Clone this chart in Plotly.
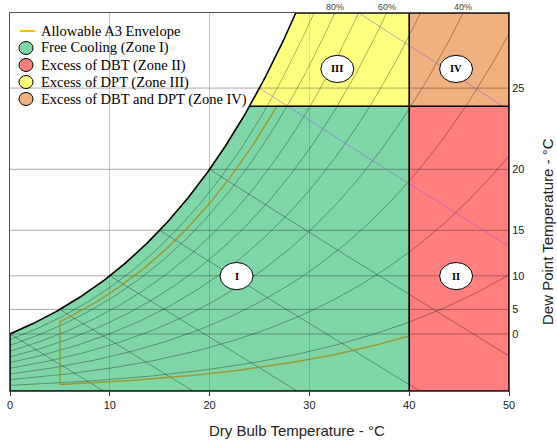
import numpy as np
import plotly.graph_objects as go

# ---------------- chart parameters ----------------
DBT_TICKS = [0, 10, 20, 30, 40, 50]          # dry bulb, deg C
DP_TICKS = [0, 5, 10, 15, 20, 25]            # dew point, deg C (right axis)
RH_LEVELS = [10, 20, 30, 40, 50, 60, 70, 80, 90]   # % relative humidity curves
RH_LABELS = [80, 60, 40]                     # labelled on top edge
WB_LINES = [0, 5, 10, 15, 20]                # wet bulb lines (dark)
WB_COLORED = [25, 30]                        # wet bulb lines (violet)
W_MAX = 0.025                                # humidity ratio at top of chart
T_MIN, T_MAX = 0, 50
ZONE_DBT = 40                                # zone boundary, dry bulb
ZONE_DP = 24                                 # zone boundary, dew point
A3_DBT = [5, 40]                             # allowable A3 envelope
A3_RH = [8, 85]
A3_DP = 24
ZONE_NAMES = ["I", "II", "III", "IV"]
ZONE_T = [22.7, 44.7, 32.8, 44.7]
ZONE_W = [0.00760, 0.00760, 0.0213, 0.0213]
LEGEND_NAMES = ["Allowable A3 Envelope", "Free Cooling (Zone I)", "Excess of DBT (Zone II)",
                "Excess of DPT (Zone III)", "Excess of DBT and DPT (Zone IV)"]
ZONE_FILL = ["rgba(0,176,80,0.5)", "rgba(255,0,0,0.5)", "rgba(255,255,0,0.5)", "rgba(222,100,0,0.5)"]
ZONE_SOLID = ["#7FD7A7", "#FF7F7F", "#FFFF7F", "#EEB17F"]

P = 101.325

# plot-area geometry in pixels (for the hand-drawn legend)
W_PX, H_PX = 557, 441
ML, MR, MT, MB = 10, 48, 13, 50
PW = W_PX - ML - MR
PH = H_PX - MT - MB


def px_x(px):
    return (px - ML) / PW


def px_y(py):
    return (H_PX - MB - py) / PH


def psat(T):
    return 0.61094 * np.exp(17.625 * T / (T + 243.04))


def t_from_psat(p):
    a = np.log(p / 0.61094)
    return 243.04 * a / (17.625 - a)


def w_from_pv(pv):
    return 0.622 * pv / (P - pv)


def pv_from_w(w):
    return w * P / (0.622 + w)


def w_rh(T, rh):
    return w_from_pv(rh / 100.0 * psat(T))


def w_dp(td):
    return w_from_pv(psat(td))


def t_rh_at_w(w, rh):
    return t_from_psat(pv_from_w(w) / (rh / 100.0))


def w_wb(T, twb):
    ws = w_dp(twb)
    return ((2501 - 2.326 * twb) * ws - 1.006 * (T - twb)) / (2501 + 1.86 * T - 4.186 * twb)


fig = go.Figure()
LINE = "rgba(0,0,0,0.32)"

# ---------------- zone fills ----------------
W24 = w_dp(ZONE_DP)
T_sat24 = t_rh_at_w(W24, 100)
T_satTop = t_rh_at_w(W_MAX, 100)
ts_low = np.linspace(T_MIN, T_sat24, 80)
ts_high = np.linspace(T_sat24, T_satTop, 40)

zone_polys = [
    (list([0, ZONE_DBT, ZONE_DBT]) + list(ts_low[::-1]),
     list([0, 0, W24]) + list(w_rh(ts_low[::-1], 100))),
    ([ZONE_DBT, T_MAX, T_MAX, ZONE_DBT], [0, 0, W24, W24]),
    ([ZONE_DBT, ZONE_DBT] + list(ts_high[::-1]),
     [W24, W_MAX] + list(w_rh(ts_high[::-1], 100))),
    ([ZONE_DBT, T_MAX, T_MAX, ZONE_DBT], [W24, W24, W_MAX, W_MAX]),
]
for (xs, ys), col in zip(zone_polys, ZONE_FILL):
    fig.add_trace(go.Scatter(x=xs, y=ys, fill="toself", fillcolor=col, mode="none",
                             showlegend=False, hoverinfo="skip"))

# ---------------- dew point horizontal lines ----------------
for d in DP_TICKS:
    fig.add_trace(go.Scatter(x=[T_MIN, T_MAX], y=[w_dp(d)] * 2, mode="lines",
                             line=dict(color=LINE, width=1), showlegend=False, hoverinfo="skip"))

# ---------------- RH curves ----------------
for rh in RH_LEVELS:
    tend = min(T_MAX, t_rh_at_w(W_MAX, rh))
    t = np.linspace(T_MIN, tend, 120)
    fig.add_trace(go.Scatter(x=t, y=w_rh(t, rh), mode="lines",
                             line=dict(color=LINE, width=1), showlegend=False, hoverinfo="skip"))


# ---------------- wet bulb lines ----------------
def wb_segment(twb):
    t = np.linspace(twb, T_MAX, 300)
    w = w_wb(t, twb)
    keep = (w >= 0) & (w <= W_MAX)
    return t[keep], w[keep]


for twb in WB_LINES:
    t, w = wb_segment(twb)
    fig.add_trace(go.Scatter(x=t, y=w, mode="lines", line=dict(color=LINE, width=1),
                             showlegend=False, hoverinfo="skip"))
for twb in WB_COLORED:
    t, w = wb_segment(twb)
    fig.add_trace(go.Scatter(x=t, y=w, mode="lines", line=dict(color="rgba(160,80,230,0.5)", width=1),
                             showlegend=False, hoverinfo="skip"))

# ---------------- A3 envelope ----------------
t_lo = np.linspace(A3_DBT[0], A3_DBT[1], 80)
Wa = w_dp(A3_DP)
t_hi_end = t_rh_at_w(Wa, A3_RH[1])
t_hi = np.linspace(t_hi_end, A3_DBT[0], 80)
env_x = list(t_lo) + [A3_DBT[1], t_hi_end] + list(t_hi) + [A3_DBT[0]]
env_y = list(w_rh(t_lo, A3_RH[0])) + [Wa, Wa] + list(w_rh(t_hi, A3_RH[1])) + [w_rh(A3_DBT[0], A3_RH[0])]
fig.add_trace(go.Scatter(x=env_x, y=env_y, mode="lines", line=dict(color="rgba(160,140,30,0.8)", width=1.5),
                         showlegend=False, hoverinfo="skip"))

# ---------------- black outlines ----------------
BK = dict(color="black", width=1.6)
ts_all = np.linspace(T_MIN, T_satTop, 150)
fig.add_trace(go.Scatter(x=list(ts_all), y=list(w_rh(ts_all, 100)), mode="lines", line=BK,
                         showlegend=False, hoverinfo="skip"))
outline = [
    ([T_MIN, T_MIN], [0, w_rh(T_MIN, 100)]),
    ([T_MIN, T_MAX], [0, 0]),
    ([ZONE_DBT, ZONE_DBT], [0, W_MAX]),
    ([T_MAX, T_MAX], [0, W_MAX]),
    ([T_sat24, T_MAX], [W24, W24]),
    ([T_satTop, T_MAX], [W_MAX, W_MAX]),
]
for xs, ys in outline:
    fig.add_trace(go.Scatter(x=xs, y=ys, mode="lines", line=BK, showlegend=False, hoverinfo="skip"))

shapes = []
annotations = []

# ---------------- hand-placed legend ----------------
LEG_Y = [31, 48, 65, 82, 99]
shapes.append(dict(type="line", xref="paper", yref="paper", x0=px_x(20), x1=px_x(35),
                   y0=px_y(LEG_Y[0]), y1=px_y(LEG_Y[0]), line=dict(color="#FFB800", width=2),
                   layer="above"))
for yy, col in zip(LEG_Y[1:], ZONE_SOLID):
    shapes.append(dict(type="circle", xref="paper", yref="paper", x0=px_x(19), x1=px_x(33),
                       y0=px_y(yy + 6.5), y1=px_y(yy - 6.5), fillcolor=col,
                       line=dict(color="black", width=1), layer="above"))
for yy, name in zip(LEG_Y, LEGEND_NAMES):
    annotations.append(dict(x=px_x(39), y=px_y(yy), xref="paper", yref="paper", text=name,
                            xanchor="left", yanchor="middle", showarrow=False,
                            font=dict(family="Liberation Serif", size=14.5, color="black")))

# ---------------- zone labels ----------------
for name, tx, wy in zip(ZONE_NAMES, ZONE_T, ZONE_W):
    shapes.append(dict(type="circle", xref="x", yref="y", x0=tx - 1.65, x1=tx + 1.65,
                       y0=wy - 0.00090, y1=wy + 0.00090, fillcolor="white",
                       line=dict(color="black", width=1), layer="above"))
    annotations.append(dict(x=tx, y=wy, xref="x", yref="y", text="<b>%s</b>" % name, showarrow=False,
                            font=dict(family="Liberation Serif", size=10.5, color="black")))

for rh in RH_LABELS:
    annotations.append(dict(x=t_rh_at_w(W_MAX, rh), y=W_MAX, xref="x", yref="y", text="%d%%" % rh,
                            showarrow=False, yanchor="bottom", yshift=-1,
                            font=dict(family="Liberation Sans", size=9, color="#444")))

annotations.append(dict(x=px_x(297), y=px_y(430), xref="paper", yref="paper",
                        text="Dry Bulb Temperature - °C", xanchor="center", yanchor="middle",
                        showarrow=False, font=dict(family="Liberation Sans", size=15, color="#222")))
annotations.append(dict(x=px_x(548), y=px_y(232), xref="paper", yref="paper",
                        text="Dew Point Temperature - °C", xanchor="center", yanchor="middle",
                        textangle=-90, showarrow=False,
                        font=dict(family="Liberation Sans", size=15, color="#222")))

fig.update_layout(
    width=W_PX, height=H_PX,
    margin=dict(l=ML, r=MR, t=MT, b=MB, autoexpand=False),
    paper_bgcolor="white", plot_bgcolor="white",
    shapes=shapes, annotations=annotations,
    showlegend=False,
)
fig.update_xaxes(range=[T_MIN, T_MAX], tickvals=DBT_TICKS, ticks="outside", ticklen=4,
                 tickcolor="#333", showgrid=True, gridcolor="#c4c4c4", gridwidth=1,
                 showline=True, linecolor="#555", linewidth=1, mirror=True, zeroline=False,
                 tickfont=dict(family="Liberation Sans", size=11, color="#222"))
fig.update_yaxes(range=[0, W_MAX], side="right", tickvals=[w_dp(d) for d in DP_TICKS],
                 ticktext=[str(d) for d in DP_TICKS], ticks="", showgrid=False,
                 showline=True, linecolor="#555", linewidth=1, mirror=True, zeroline=False,
                 tickfont=dict(family="Liberation Sans", size=11, color="#222"))

fig.write_html("out.html")
